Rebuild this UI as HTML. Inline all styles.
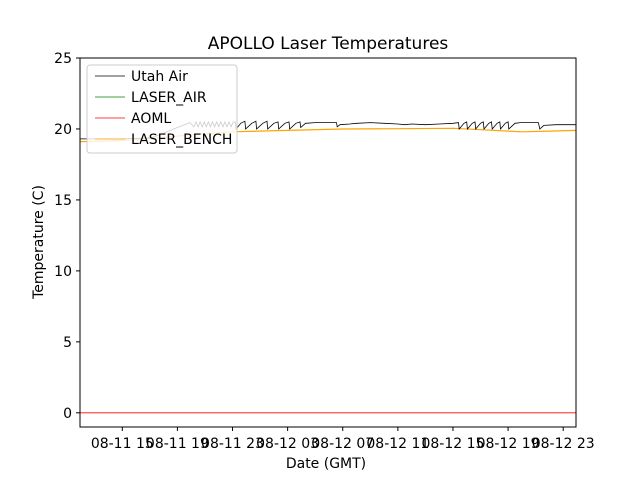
<!DOCTYPE html>
<html><head><meta charset="utf-8"><style>
body{margin:0;background:#fff}
svg text{font-family:"DejaVu Sans",sans-serif}
</style></head><body>
<svg id="chart" width="640" height="480" xmlns="http://www.w3.org/2000/svg"></svg>
<script>
const xTickHours=[15,19,23,27,31,35,39,43,47];
const xTickLabels=["08-11 15","08-11 19","08-11 23","08-12 03","08-12 07","08-12 11","08-12 15","08-12 19","08-12 23"];
const yTicks=[0,5,10,15,20,25];
const utahHours=[11.93,13,15,16.5,17.2,18,19,19.9,
20.2,20.35,20.5,20.65,20.8,20.95,21.1,21.25,21.4,21.55,21.7,21.85,22.0,22.15,22.3,22.45,22.6,22.75,22.9,23.05,23.2,
23.25,23.6,23.9,23.95,24.4,24.7,24.75,25.2,25.5,25.55,26.0,26.3,26.35,26.8,27.1,27.15,27.6,27.9,27.95,28.3,
29,30,30.55,30.6,30.8,31.5,32,33,34,35,35.5,36,37,38,39,39.4,
39.45,39.8,40.0,40.05,40.4,40.6,40.65,41.0,41.2,41.25,41.6,41.8,41.85,42.2,42.4,42.45,42.8,43.0,43.05,43.5,43.9,
44.5,45.2,45.3,45.6,46.5,47.93];
const utahValues=[19.3,19.3,19.3,19.35,19.4,19.7,20.1,20.45,
20.15,20.5,20.15,20.5,20.15,20.5,20.15,20.5,20.15,20.5,20.15,20.5,20.15,20.5,20.15,20.5,20.15,20.5,20.15,20.5,20.5,
20.0,20.4,20.55,20.0,20.4,20.55,20.0,20.4,20.55,20.0,20.4,20.5,20.0,20.4,20.5,20.0,20.4,20.5,20.1,20.4,
20.45,20.45,20.45,20.15,20.3,20.35,20.4,20.45,20.4,20.35,20.3,20.35,20.3,20.35,20.4,20.45,
20.0,20.4,20.5,20.0,20.4,20.5,20.0,20.4,20.5,20.0,20.4,20.5,20.0,20.4,20.5,20.0,20.4,20.5,20.0,20.4,20.45,
20.45,20.45,20.0,20.25,20.3,20.3];
const benchHours=[11.93,14,16,18,20,23,27,31,35,39,41,43,44,46,47.93];
const benchValues=[19.1,19.15,19.25,19.4,19.6,19.8,19.9,20.0,20.02,20.05,19.95,19.85,19.8,19.85,19.9];
const aomlHours=[11.93,47.93];
const aomlValues=[0,0];

const L=80,R=576,T=58,B=427,x0=11.93,x1=47.93,y0=-1,y1=25;
const xs=h=>L+(h-x0)/(x1-x0)*(R-L);
const ys=v=>B-(v-y0)/(y1-y0)*(B-T);
const svg=document.getElementById('chart');
const NS='http://www.w3.org/2000/svg';
function mk(tag,attrs,parent){const e=document.createElementNS(NS,tag);for(const k in attrs)e.setAttribute(k,attrs[k]);(parent||svg).appendChild(e);return e;}

function line(hs,vs,color,w,name){
  const d=hs.map((h,i)=>(i?'L':'M')+xs(h).toFixed(1)+','+ys(vs[i]).toFixed(1)).join('');
  const p=mk('path',{d:d,fill:'none',stroke:color,'stroke-width':w});
  
  
}
line(benchHours,benchValues,'#ffa500',1.2,'laser-bench-line');
line(utahHours,utahValues,'#000',0.8,'utah-air-line');
line(aomlHours,aomlValues,'#ff0000',0.8,'aoml-line');

const frame=mk('rect',{x:L,y:T,width:R-L,height:B-T,fill:'none',stroke:'#000','stroke-width':1});



xTickHours.forEach((h,i)=>{
  const x=xs(h);
  mk('line',{x1:x,x2:x,y1:B,y2:B+4,stroke:'#000'});
  const t=mk('text',{x:x,y:B+21,'text-anchor':'middle','font-size':14});
  t.textContent=xTickLabels[i];
  
  
});
yTicks.forEach(v=>{
  const y=ys(v);
  mk('line',{x1:L-4,x2:L,y1:y,y2:y,stroke:'#000'});
  const t=mk('text',{x:L-8,y:y+5,'text-anchor':'end','font-size':14});
  t.textContent=v;
  
  
});
const title=mk('text',{x:328,y:49,'text-anchor':'middle','font-size':17});
title.textContent='APOLLO Laser Temperatures';


const xl=mk('text',{x:326,y:468,'text-anchor':'middle','font-size':14});
xl.textContent='Date (GMT)';


const yl=mk('text',{x:43,y:242,'text-anchor':'middle','font-size':14,transform:'rotate(-90 43 242)'});
yl.textContent='Temperature (C)';



const lg=mk('g',{});


mk('rect',{x:87,y:65,width:150,height:88,rx:3,fill:'#fff','fill-opacity':0.8,stroke:'#ccc'},lg);
const entries=[['Utah Air','#000'],['LASER_AIR','#008000'],['AOML','#ff0000'],['LASER_BENCH','#ffa500']];
entries.forEach((e,i)=>{
  const y=76+i*21;
  const g=mk('g',{},lg);
  
  
  mk('line',{x1:95,x2:125,y1:y,y2:y,stroke:e[1],'stroke-width':0.7},g);
  const t=mk('text',{x:131,y:y+5,'font-size':14},g);t.textContent=e[0];
});
</script>
</body></html>
